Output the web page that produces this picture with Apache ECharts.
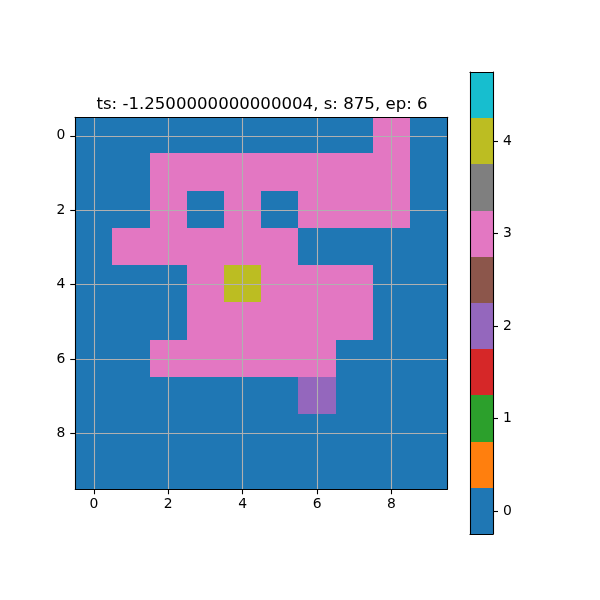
<!DOCTYPE html>
<html>
<head>
<meta charset="utf-8">
<style>html,body{margin:0;padding:0;background:#fff}#c{width:600px;height:600px}</style>
<script src="https://cdn.jsdelivr.net/npm/echarts@6/dist/echarts.min.js"></script>
</head>
<body>
<div id="c"></div>
<script>
const titleText = "ts: -1.2500000000000004, s: 875, ep: 6";
const xCategories = ["0","1","2","3","4","5","6","7","8","9"];
const yCategories = ["0","1","2","3","4","5","6","7","8","9"];
const row0 = [0,0,0,0,0,0,0,0,3,0];
const row1 = [0,0,3,3,3,3,3,3,3,0];
const row2 = [0,0,3,0,3,0,3,3,3,0];
const row3 = [0,3,3,3,3,3,0,0,0,0];
const row4 = [0,0,0,3,4,3,3,3,0,0];
const row5 = [0,0,0,3,3,3,3,3,0,0];
const row6 = [0,0,3,3,3,3,3,0,0,0];
const row7 = [0,0,0,0,0,0,2,0,0,0];
const row8 = [0,0,0,0,0,0,0,0,0,0];
const row9 = [0,0,0,0,0,0,0,0,0,0];
const rows = [row0,row1,row2,row3,row4,row5,row6,row7,row8,row9];
const barLevels = [0,0.5,1,1.5,2,2.5,3,3.5,4,4.5];
const barLabels = ["0","","1","","2","","3","","4",""];
const barColors = ["#1f77b4","#ff7f0e","#2ca02c","#d62728","#9467bd","#8c564b","#e377c2","#7f7f7f","#bcbd22","#17becf"];

const cells = [];
rows.forEach((r,y)=>r.forEach((v,x)=>cells.push([x,y,v])));
const barCells = barLevels.map((v,i)=>[0,i,v]);
const pieces = barLevels.map((v,i)=>({gte:v-0.25,lt:v+0.25,color:barColors[i]}));

const font = {fontFamily:"DejaVu Sans",color:"#000"};
const tick = {show:true,length:5,lineStyle:{color:"#000",width:1.1}};
const frame = {show:true,onZero:false,lineStyle:{color:"#000",width:1.1}};
const none = {show:false};
const gridLine = {show:true,interval:1,alignWithLabel:true,lineStyle:{color:"#b0b0b0",width:1.1}};

function cellItem(params, api){
  const c = api.coord([api.value(0), api.value(1)]);
  const s = api.size([1,1]);
  const x0 = Math.round(c[0]-s[0]/2), x1 = Math.round(c[0]+s[0]/2);
  const y0 = Math.round(c[1]-s[1]/2), y1 = Math.round(c[1]+s[1]/2);
  const extra = params.seriesIndex === 0 ? 1 : 0;
  return {type:"rect",shape:{x:x0,y:y0,width:x1-x0,height:y1-y0+extra},style:{fill:api.visual("color")}};
}

const chart = echarts.init(document.getElementById("c"),null,{renderer:"canvas"});
chart.setOption({
  animation:false,
  backgroundColor:"#fff",
  title:{text:titleText,left:257,top:90,textAlign:"center",
    textStyle:{fontFamily:"DejaVu Sans",fontSize:16.6,fontWeight:"normal",color:"#000",lineHeight:20}},
  graphic:[{type:"rect",z:3,silent:true,shape:{x:70,y:116,width:382,height:1},style:{fill:"#fff"}}],
  grid:[
    {left:75.25,top:117.25,width:372,height:372},
    {left:470,top:72,width:23,height:462},
    {left:75.25,top:116.27,width:372,height:372.1}
  ],
  xAxis:[
    {type:"category",gridIndex:0,data:xCategories,position:"bottom",z:5,
     axisLine:frame,axisTick:{...tick,alignWithLabel:true,interval:1},
     axisLabel:{...font,fontSize:13.9,interval:1,margin:8},splitLine:gridLine,splitArea:none},
    {type:"category",gridIndex:0,data:xCategories,position:"top",z:5,
     axisLine:frame,axisTick:none,axisLabel:none,splitLine:none},
    {type:"category",gridIndex:1,data:["c"],position:"bottom",z:5,
     axisLine:frame,axisTick:none,axisLabel:none,splitLine:none},
    {type:"category",gridIndex:1,data:["c"],position:"top",z:5,
     axisLine:frame,axisTick:none,axisLabel:none,splitLine:none},
    {type:"category",gridIndex:2,data:xCategories,show:false}
  ],
  yAxis:[
    {type:"category",gridIndex:0,data:yCategories,inverse:true,position:"left",z:5,
     axisLine:frame,axisTick:{...tick,alignWithLabel:true,interval:1},
     axisLabel:{...font,fontSize:13.9,interval:1,margin:10,padding:[4,0,0,0]},splitLine:gridLine,splitArea:none},
    {type:"category",gridIndex:0,data:yCategories,inverse:true,position:"right",z:5,
     axisLine:frame,axisTick:none,axisLabel:none,splitLine:none},
    {type:"category",gridIndex:1,data:barLabels,position:"right",z:5,
     axisLine:frame,axisTick:{...tick,alignWithLabel:true,interval:1},
     axisLabel:{...font,fontSize:13.9,interval:1,margin:10,padding:[4,0,0,0]},splitLine:none},
    {type:"category",gridIndex:1,data:barLabels,position:"left",z:5,
     axisLine:frame,axisTick:none,axisLabel:none,splitLine:none},
    {type:"category",gridIndex:2,data:yCategories,inverse:true,show:false}
  ],
  visualMap:{show:false,type:"piecewise",dimension:2,seriesIndex:[0,1],pieces:pieces},
  series:[
    {type:"custom",name:"grid",xAxisIndex:4,yAxisIndex:4,data:cells,z:1,encode:{x:0,y:1},renderItem:cellItem,silent:true},
    {type:"custom",name:"colorbar",xAxisIndex:2,yAxisIndex:2,data:barCells,z:1,encode:{x:0,y:1},renderItem:cellItem,silent:true}
  ]
});
</script>
</body>
</html>
